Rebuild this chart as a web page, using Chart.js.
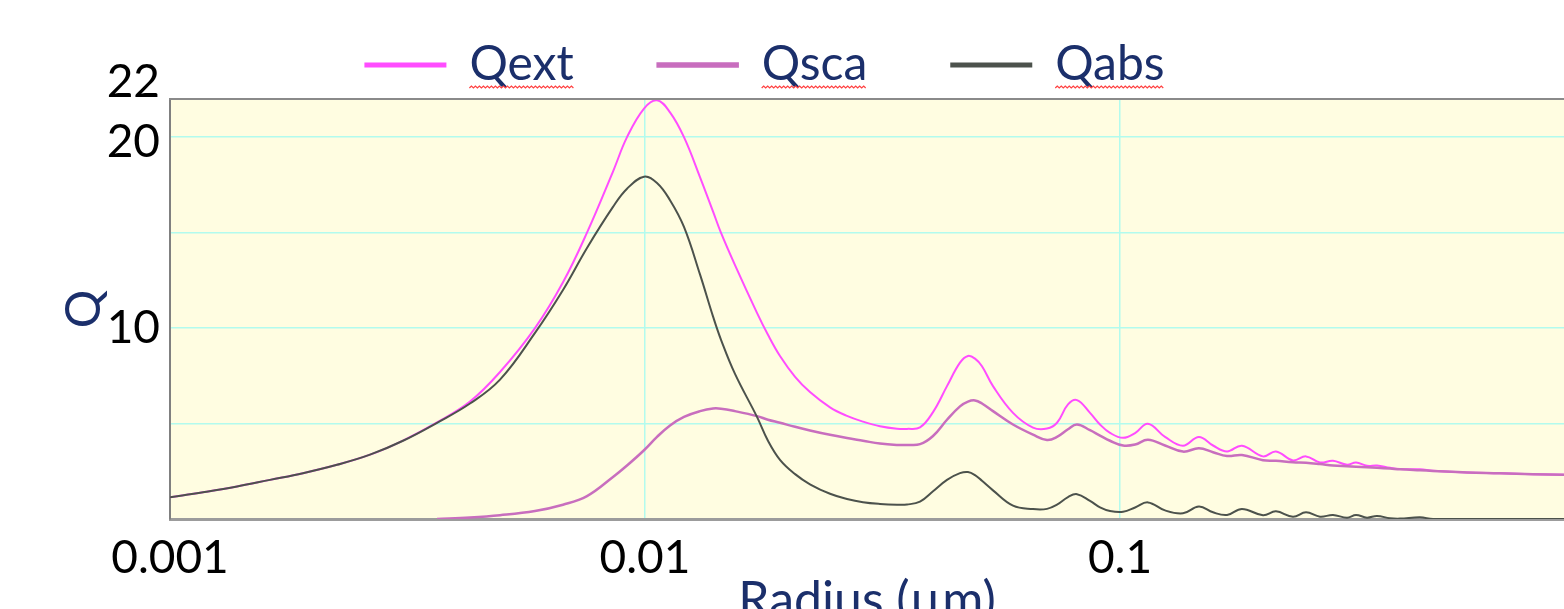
<!DOCTYPE html>
<html>
<head>
<meta charset="utf-8">
<script src="https://cdn.jsdelivr.net/npm/chart.js@4.4.1/dist/chart.umd.min.js"></script>
<style>
html, body { margin: 0; padding: 0; background: #ffffff; }
#wrap { width: 1564px; height: 609px; position: relative; }
canvas { display: block; }
</style>
</head>
<body>
<div id="wrap"><canvas id="c" width="1564" height="609" style="width:1564px;height:609px"></canvas></div>
<script>
// ---- data ----
const radius = [0.001, 0.001174, 0.001384, 0.001624, 0.001905, 0.002247, 0.002637, 0.003094, 0.003649, 0.004281,
  0.004952, 0.005867, 0.00672, 0.007549, 0.008563, 0.009165, 0.009952, 0.0106, 0.01129, 0.01208,
  0.01306, 0.01391, 0.01445, 0.01547, 0.01721, 0.01815, 0.01924, 0.0207, 0.02225, 0.02452, 0.02662, 0.02877,
  0.03124, 0.03393, 0.03561, 0.03793, 0.0404, 0.04323, 0.04604, 0.04786, 0.04952, 0.05122,
  0.05403, 0.05953, 0.06559, 0.0702, 0.07369, 0.07772, 0.08119, 0.08647, 0.09076, 0.09528,
  0.1015, 0.1076, 0.1145, 0.1244, 0.1357, 0.1466, 0.157, 0.168, 0.1806, 0.2,
  0.213, 0.2313, 0.2464, 0.2637, 0.2808, 0.3006, 0.314, 0.3311, 0.3476, 0.3702,
  0.3886, 0.4281, 0.456, 0.5377, 0.631, 0.7404, 0.8605];

const qext = [1.14, 1.40, 1.70, 2.05, 2.40, 2.84, 3.37, 4.11, 5.06, 6.15,
  7.7, 10.0, 12.4, 15.0, 18.2, 20.0, 21.5, 21.93, 21.3, 20.0,
  17.9, 16.1, 15.0, 13.3, 10.8, 9.65, 8.54, 7.45, 6.65, 5.85, 5.4, 5.1,
  4.86, 4.73, 4.72, 4.8, 5.6, 6.96, 8.19, 8.54, 8.4, 8.0,
  6.96, 5.56, 4.79, 4.74, 5.04, 6.0, 6.23, 5.56, 4.95, 4.51,
  4.25, 4.5, 4.99, 4.3, 3.84, 4.3, 3.85, 3.54, 3.84, 3.28,
  3.54, 3.07, 3.28, 2.96, 3.05, 2.84, 2.96, 2.79, 2.80, 2.68,
  2.62, 2.60, 2.53, 2.44, 2.40, 2.35, 2.32];

const qsca = [null, null, null, null, null, null, null, null, 0.0, 0.08,
  0.2, 0.42, 0.75, 1.2, 2.2, 2.8, 3.6, 4.3, 4.9, 5.35,
  5.65, 5.79, 5.78, 5.65, 5.39, 5.2, 5.04, 4.83, 4.64, 4.41, 4.24, 4.1,
  3.95, 3.88, 3.88, 3.92, 4.35, 5.2, 5.9, 6.15, 6.21, 6.05,
  5.65, 4.95, 4.42, 4.14, 4.3, 4.7, 4.95, 4.65, 4.37, 4.1,
  3.85, 3.9, 4.15, 3.85, 3.53, 3.7, 3.5, 3.3, 3.35, 3.08,
  3.05, 2.97, 2.95, 2.88, 2.8, 2.76, 2.74, 2.71, 2.68, 2.64,
  2.6, 2.55, 2.52, 2.44, 2.40, 2.35, 2.32];

const qabs = [1.14, 1.40, 1.70, 2.05, 2.40, 2.84, 3.37, 4.10, 5.04, 6.05,
  7.3, 9.75, 12.0, 14.2, 16.35, 17.3, 17.93, 17.6, 16.7, 15.3,
  12.8, 10.6, 9.4, 7.6, 5.35, 4.1, 3.1, 2.35, 1.82, 1.32, 1.05, 0.88,
  0.79, 0.75, 0.76, 0.91, 1.45, 2.05, 2.4, 2.46, 2.3, 2.0,
  1.5, 0.7, 0.52, 0.53, 0.75, 1.15, 1.3, 0.95, 0.61, 0.42,
  0.38, 0.6, 0.87, 0.45, 0.3, 0.65, 0.35, 0.21, 0.53, 0.2,
  0.4, 0.12, 0.35, 0.12, 0.21, 0.07, 0.21, 0.07, 0.16, 0.04,
  0.02, 0.09, 0.0, 0.0, 0.0, 0.0, 0.0];

const seriesNames = ['Qext', 'Qsca', 'Qabs'];
const xTickValues = [0.001, 0.01, 0.1];
const xTickLabels = ['0.001', '0.01', '0.1'];
const yTickValues = [0, 5, 10, 15, 20, 22];
const yTickLabels = ['', '', '10', '', '20', '22'];
const xTitle = 'Radius (µm)';
const yTitle = 'Q';

// ---- styling ----
const FONT = 'Lato, "Liberation Sans", sans-serif';
const NAVY = '#1b2f6b';
const GRID = '#b2fbee';
const colors = ['#ff4dff', '#c86ebe', '#4c524c'];
const widths = [2, 2.5, 2];
const drawOrder = [2, 1, 0];
const yLabelShift = [0, 0, 0, 0, 5, -17];   // px offsets of the tick labels as placed in the picture

const toPoints = arr => radius.map((r, i) => ({ x: r, y: arr[i] }));
const seriesValues = [qext, qsca, qabs];

const plotFrame = {
  id: 'plotFrame',
  beforeDraw(chart) {
    const { ctx, chartArea: a } = chart;
    ctx.save();
    ctx.fillStyle = '#fffde1';
    ctx.fillRect(a.left, a.top, a.right - a.left, a.bottom - a.top);
    ctx.restore();
  },
  afterDraw(chart) {
    const { ctx, chartArea: a } = chart;
    ctx.save();
    ctx.strokeStyle = '#8a8a8a';
    ctx.lineWidth = 2;
    ctx.beginPath();
    ctx.moveTo(a.left - 1, a.top);
    ctx.lineTo(a.right, a.top);
    ctx.stroke();
    // spell-check style wavy underline below the legend words
    const lg = chart.legend;
    if (lg && lg.legendHitBoxes) {
      const lo = lg.options.labels;
      const fs = lo.font.size;
      ctx.strokeStyle = '#ff4040';
      ctx.lineWidth = 1.2;
      lg.legendHitBoxes.forEach(hb => {
        const x0 = hb.left + lo.boxWidth + fs / 2;
        const x1 = hb.left + hb.width;
        const y = hb.top + hb.height - 1;
        ctx.beginPath();
        let up = true;
        ctx.moveTo(x0, y);
        for (let x = x0 + 2; x <= x1; x += 2) {
          ctx.lineTo(x, up ? y - 2 : y);
          up = !up;
        }
        ctx.stroke();
      });
    }
    ctx.restore();
  }
};

new Chart(document.getElementById('c'), {
  type: 'line',
  data: {
    datasets: seriesNames.map((name, k) => ({
      label: name,
      data: toPoints(seriesValues[k]),
      borderColor: colors[k],
      backgroundColor: colors[k],
      borderWidth: widths[k],
      pointRadius: 0,
      tension: 0.4,
      order: drawOrder[k],
      spanGaps: false
    }))
  },
  options: {
    responsive: false,
    devicePixelRatio: 1,
    animation: false,
    layout: { padding: { top: -43, left: -34, right: 0, bottom: 0 } },
    plugins: {
      tooltip: { enabled: false },
      legend: {
        position: 'top',
        align: 'center',
        labels: {
          boxWidth: 80,
          boxHeight: 3,
          padding: 84,
          color: NAVY,
          font: { family: FONT, size: 48 },
          sort: (a, b) => a.datasetIndex - b.datasetIndex
        }
      }
    },
    scales: {
      x: {
        type: 'logarithmic',
        min: 0.001,
        max: 0.8605,
        afterBuildTicks: s => { s.ticks = xTickValues.map(v => ({ value: v })); },
        afterFit: s => { s.height = 90; },
        ticks: {
          callback: (v, i) => xTickLabels[i],
          color: '#000000',
          font: { family: FONT, size: 46 },
          padding: 12,
          maxRotation: 0,
          autoSkip: false
        },
        grid: {
          color: c => (c.tick && c.tick.value === 0.001) ? 'rgba(0,0,0,0)' : GRID,
          lineWidth: 1.5,
          drawTicks: false
        },
        border: { color: '#9c9c9c', width: 3 },
        title: {
          display: true,
          text: xTitle,
          color: NAVY,
          font: { family: FONT, size: 50 },
          padding: { top: 0, bottom: -22 }
        }
      },
      y: {
        type: 'linear',
        min: 0,
        max: 22,
        afterBuildTicks: s => { s.ticks = yTickValues.map(v => ({ value: v })); },
        afterFit: s => { s.width = 204; },
        ticks: {
          callback: (v, i) => {
            const sh = yLabelShift[i];
            const t = yTickLabels[i];
            if (sh < 0) return [t, ''];
            if (sh > 0) return ['', t];
            return t;
          },
          font: c => {
            const sh = c.index !== undefined ? yLabelShift[c.index] : 0;
            return { family: FONT, size: 46, lineHeight: sh ? (2 * Math.abs(sh)) + 'px' : 1.2 };
          },
          color: '#000000',
          padding: 10,
          autoSkip: false
        },
        grid: {
          color: c => (c.tick && (c.tick.value === 0 || c.tick.value === 22)) ? 'rgba(0,0,0,0)' : GRID,
          lineWidth: 1.5,
          drawTicks: false
        },
        border: { color: '#808080', width: 2 },
        title: {
          display: true,
          text: yTitle,
          color: NAVY,
          font: { family: FONT, size: 48 },
          padding: { top: 90, bottom: 0 }
        }
      }
    }
  },
  plugins: [plotFrame]
});
</script>
</body>
</html>
